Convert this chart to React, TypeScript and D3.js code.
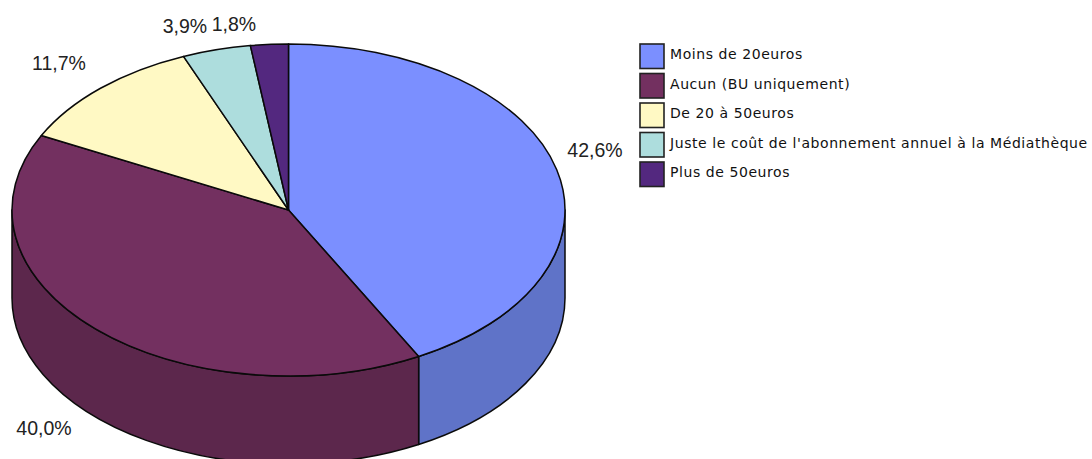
import React from "react";
import * as d3 from "d3";

const categories = ["Moins de 20euros", "Aucun (BU uniquement)", "De 20 à 50euros", "Juste le coût de l'abonnement annuel à la Médiathèque", "Plus de 50euros"];
const drawnShares = [42.2, 40.2, 11.4, 4.0, 2.2];
const valueLabels = ["42,6%", "40,0%", "11,7%", "3,9%", "1,8%"];
const topColors = ["#7B8FFF", "#733060", "#FFF9C4", "#ADDDDD", "#53287F"];
const sideColors = ["#5F73C8", "#5C274C", "#CCC79D", "#8AB1B1", "#421F66"];
const labelPos: [number, number][] = [[595, 157], [44, 435], [59, 70], [185, 33], [234, 31]];

const W = 1092, H = 459;
const cx = 288.5, cy = 210, rx = 276.5, ry = 166, depth = 88;
const pt = (a: number, dy = 0): [number, number] => [cx + rx * Math.sin(a), cy - ry * Math.cos(a) + dy];

const arcs = d3.pie<number>().sort(null)(drawnShares);

function topPath(a0: number, a1: number) {
  const [x0, y0] = pt(a0), [x1, y1] = pt(a1);
  const large = a1 - a0 > Math.PI ? 1 : 0;
  return `M${cx},${cy}L${x0},${y0}A${rx},${ry} 0 ${large} 1 ${x1},${y1}Z`;
}
function sidePath(a0: number, a1: number) {
  const s = Math.max(a0, Math.PI / 2), e = Math.min(a1, (3 * Math.PI) / 2);
  if (e <= s) return null;
  const [x0, y0] = pt(s), [x1, y1] = pt(e), [x2, y2] = pt(e, depth), [x3, y3] = pt(s, depth);
  return `M${x0},${y0}A${rx},${ry} 0 0 1 ${x1},${y1}L${x2},${y2}A${rx},${ry} 0 0 0 ${x3},${y3}Z`;
}

const legendY = d3.scalePoint<number>().domain(d3.range(categories.length)).range([54, 172]);

export default function App() {
  return (
    <svg width={W} height={H} viewBox={`0 0 ${W} ${H}`} style={{ position: "fixed", left: 0, top: 0, background: "#fff" }}>
      <g stroke="#0a0a0a" strokeWidth={1.5} strokeLinejoin="round">
        {arcs.map((d, i) => {
          const p = sidePath(d.startAngle, d.endAngle);
          return p ? <path key={i} d={p} fill={sideColors[i]} /> : null;
        })}
        {arcs.map((d, i) => (
          <path key={i} d={topPath(d.startAngle, d.endAngle)} fill={topColors[i]} />
        ))}
      </g>
      <g fontFamily="'Liberation Sans', Arial, sans-serif" fontSize={19.5} fill="#222" textAnchor="middle">
        {valueLabels.map((t, i) => (
          <text key={i} x={labelPos[i][0]} y={labelPos[i][1]}>{t}</text>
        ))}
      </g>
      <g fontFamily="'DejaVu Sans', sans-serif" fontSize={14} letterSpacing={0.57} fill="#111">
        {categories.map((c, i) => (
          <g key={i}>
            <rect x={640} y={legendY(i)! - 10} width={24} height={24.5} fill={topColors[i]} stroke="#222" strokeWidth={1.6} />
            <text x={670} y={legendY(i)! + 5}>{c}</text>
          </g>
        ))}
      </g>
    </svg>
  );
}
